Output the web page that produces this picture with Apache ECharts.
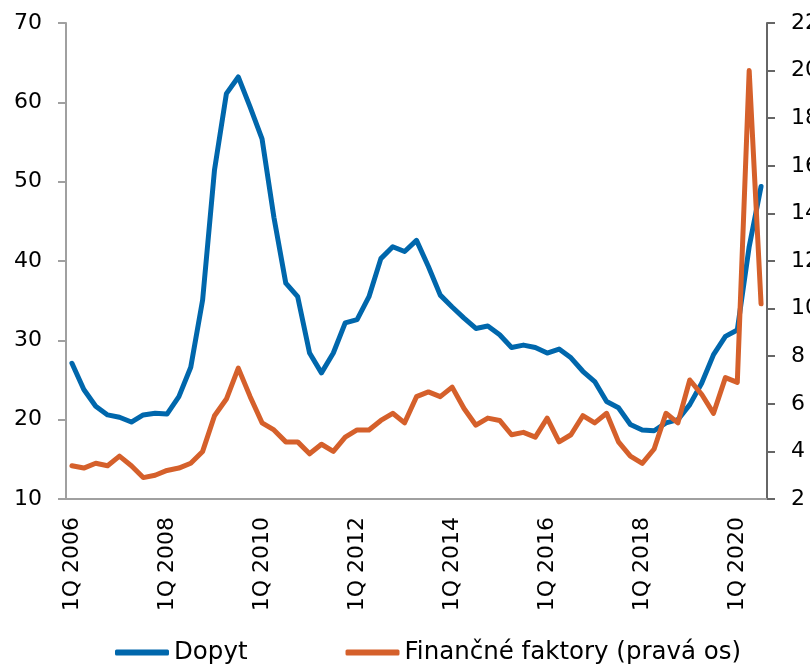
<!DOCTYPE html>
<html>
<head>
<meta charset="utf-8">
<script src="https://cdn.jsdelivr.net/npm/echarts@6/dist/echarts.min.js"></script>
<style>
  html, body { margin: 0; padding: 0; background: #fff; }
  #chart { width: 810px; height: 669px; }
</style>
</head>
<body>
<div id="chart"></div>
<script>
// quarters 1Q 2006 .. 3Q 2020
const years = [2006, 2007, 2008, 2009, 2010, 2011, 2012, 2013, 2014, 2015, 2016, 2017, 2018, 2019, 2020]
const categories = []
years.forEach(y => {
  for (let q = 1; q <= 4; q++) {
    if (y === 2020 && q > 3) break
    categories.push(q + 'Q ' + y)
  }
})

const dopyt = [
  27.1, 23.8, 21.7, 20.6, 20.3, 19.7, 20.6, 20.8, 20.7, 22.9,
  26.6, 35.1, 51.5, 61.1, 63.2, 59.4, 55.4, 45.5, 37.2, 35.5,
  28.4, 25.9, 28.4, 32.2, 32.6, 35.5, 40.3, 41.8, 41.2, 42.6,
  39.3, 35.7, 34.2, 32.8, 31.5, 31.8, 30.7, 29.1, 29.4, 29.1,
  28.4, 28.9, 27.8, 26.1, 24.8, 22.3, 21.5, 19.4, 18.7, 18.6,
  19.6, 20.0, 21.9, 24.6, 28.2, 30.5, 31.3, 41.8, 49.4
]

const financne = [
  3.4, 3.3, 3.5, 3.4, 3.8, 3.4, 2.9, 3.0, 3.2, 3.3,
  3.5, 4.0, 5.5, 6.2, 7.5, 6.3, 5.2, 4.9, 4.4, 4.4,
  3.9, 4.3, 4.0, 4.6, 4.9, 4.9, 5.3, 5.6, 5.2, 6.3,
  6.5, 6.3, 6.7, 5.8, 5.1, 5.4, 5.3, 4.7, 4.8, 4.6,
  5.4, 4.4, 4.7, 5.5, 5.2, 5.6, 4.4, 3.8, 3.5, 4.1,
  5.6, 5.2, 7.0, 6.4, 5.6, 7.1, 6.9, 20.0, 10.2
]

const blue = '#0067ac'
const orange = '#d5602b'
const font = 'DejaVu Sans'

const chart = echarts.init(document.getElementById('chart'))
chart.setOption({
  animation: false,
  grid: {
    left: 66,
    right: 43,
    top: 23,
    bottom: 170,
    containLabel: false,
    outerBoundsMode: 'none'
  },
  legend: {
    left: 115,
    top: 640,
    padding: 0,
    icon: 'roundRect',
    itemWidth: 54,
    itemHeight: 6,
    itemGap: 98,
    textStyle: {
      fontFamily: font,
      fontSize: 24.5,
      color: '#000'
    },
    data: ['Dopyt', 'Finančné faktory (pravá os)']
  },
  xAxis: {
    type: 'category',
    data: categories,
    boundaryGap: true,
    axisLine: {
      lineStyle: { color: '#a0a0a0', width: 2 }
    },
    axisTick: {
      interval: 3,
      length: 8,
      lineStyle: { color: '#a0a0a0', width: 2 }
    },
    axisLabel: {
      interval: 7,
      rotate: 90,
      margin: 18,
      fontFamily: font,
      fontSize: 22,
      color: '#000'
    }
  },
  yAxis: [
    {
      type: 'value',
      min: 10,
      max: 70,
      interval: 10,
      axisLine: {
        show: true,
        lineStyle: { color: '#a0a0a0', width: 2 }
      },
      axisTick: {
        show: true,
        length: 8,
        lineStyle: { color: '#a0a0a0', width: 2 }
      },
      splitLine: { show: false },
      axisLabel: {
        margin: 24,
        fontFamily: font,
        fontSize: 22,
        color: '#000'
      }
    },
    {
      type: 'value',
      position: 'right',
      min: 2,
      max: 22,
      interval: 2,
      axisLine: {
        show: true,
        lineStyle: { color: '#666', width: 2 }
      },
      axisTick: {
        show: true,
        length: 8,
        lineStyle: { color: '#666', width: 2 }
      },
      splitLine: { show: false },
      axisLabel: {
        margin: 24,
        fontFamily: font,
        fontSize: 22,
        color: '#000'
      }
    }
  ],
  series: [
    {
      name: 'Dopyt',
      type: 'line',
      data: dopyt,
      yAxisIndex: 0,
      showSymbol: false,
      symbol: 'none',
      color: blue,
      lineStyle: { width: 5, color: blue, join: 'round', cap: 'round' }
    },
    {
      name: 'Finančné faktory (pravá os)',
      type: 'line',
      data: financne,
      yAxisIndex: 1,
      showSymbol: false,
      symbol: 'none',
      color: orange,
      lineStyle: { width: 5, color: orange, join: 'round', cap: 'round' }
    }
  ]
})
</script>
</body>
</html>
